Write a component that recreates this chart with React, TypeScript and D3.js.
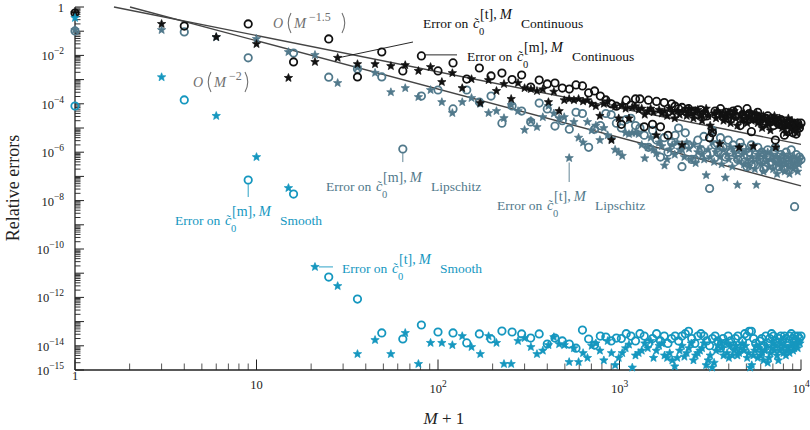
import React from "react";
import * as d3 from "d3";

// Sample grid: circle markers at M+1 = k^2, star markers at M+1 = k(k+1)/2
const circleK = d3.range(1, 101);
const starK = d3.range(1, 141);
const circleM1 = circleK.map((k) => k * k);
const starM1 = starK.map((k) => (k * (k + 1)) / 2);

// log10 of the relative error of c~0^[m],M (circles) and c~0^[t],M (stars)
const continuousMid = [
  -0.25, -0.79, -0.7, -2.27, -1.32, -2.89, -1.86, -2.64, -2.02, -2.64,
  -2.31, -2.98, -2.52, -2.85, -2.73, -3.0, -2.81, -3.31, -3.02, -3.18,
  -3.14, -3.35, -3.39, -3.22, -3.26, -3.55, -3.47, -3.68, -3.84, -4.0,
  -4.1, -4.85, -3.85, -4.05, -3.8, -3.8, -4.95, -3.85, -4.85, -3.9,
  -4.95, -3.95, -5.3, -4.0, -4.1, -4.2, -4.15, -4.3, -4.2, -4.35,
  -4.3, -4.45, -4.25, -4.4, -4.5, -5.4, -5.2, -4.3, -4.4, -4.2,
  -4.5, -4.35, -4.6, -4.4, -4.3, -4.5, -4.25, -4.9, -4.45, -4.6,
  -4.2, -4.4, -5.15, -4.6, -4.5, -4.35, -4.7, -4.55, -4.8, -4.6,
  -4.5, -4.75, -4.6, -4.9, -5.5, -4.7, -4.85, -4.65, -4.9, -5.3,
  -4.8, -5.15, -4.75, -4.9, -5.2, -4.85, -5.25, -4.8, -5.0, -4.8,
];
const continuousTrap = [
  -0.25, -0.7, -1.24, -1.53, -2.93, -2.27, -2.1, -2.36, -2.36, -2.44,
  -2.4, -2.64, -2.48, -3.1, -2.73, -3.35, -2.98, -3.97, -3.02, -3.47,
  -3.18, -3.8, -3.14, -3.35, -3.39, -3.47, -3.4, -3.93, -3.5, -4.3,
  -3.85, -3.8, -3.85, -3.8, -3.9, -3.85, -4.0, -4.1, -4.5, -4.0,
  -3.9, -5.5, -4.1, -4.6, -4.05, -4.2, -4.6, -4.15, -4.1, -4.25,
  -4.2, -4.45, -4.3, -4.2, -4.35, -5.3, -4.25, -4.4, -4.3, -4.5,
  -4.2, -4.35, -4.6, -4.3, -4.45, -5.7, -4.3, -4.5, -4.2, -4.4,
  -4.6, -4.3, -4.25, -4.5, -4.7, -4.35, -4.2, -4.5, -4.9, -5.1,
  -4.4, -4.6, -4.3, -5.65, -4.5, -4.7, -4.4, -4.6, -4.35, -4.8,
  -4.5, -4.3, -4.6, -4.9, -5.8, -4.5, -4.7, -4.4, -4.6, -4.8,
  -4.5, -4.35, -4.7, -5.75, -4.6, -4.4, -4.8, -4.55, -4.7, -5.0,
  -4.5, -4.65, -4.9, -4.6, -4.75, -5.1, -4.6, -4.8, -4.5, -5.8,
  -4.7, -4.9, -4.6, -4.8, -5.0, -4.7, -4.9, -5.2, -4.8, -4.6,
  -4.9, -5.0, -4.7, -5.1, -4.8, -4.9, -5.2, -4.8, -5.0, -4.9,
];
const lipschitzMid = [
  -0.99, -1.03, -2.1, -1.9, -2.9, -2.56, -2.89, -5.87, -3.68, -3.43,
  -4.21, -3.43, -3.93, -3.68, -4.8, -4.09, -4.3, -4.75, -3.97, -4.21,
  -4.92, -4.7, -5.05, -4.35, -4.4, -5.8, -5.05, -4.9, -4.4, -4.45,
  -4.8, -5.0, -4.65, -4.6, -4.9, -5.0, -5.3, -5.8, -5.1, -5.5,
  -6.2, -5.4, -6.0, -5.6, -5.3, -5.0, -6.6, -5.2, -5.7, -6.3,
  -6.3, -5.5, -5.9, -5.35, -6.1, -7.5, -5.1, -5.7, -6.0, -5.4,
  -5.8, -6.2, -5.5, -6.0, -5.7, -5.9, -6.3, -5.6, -5.8, -6.4,
  -6.6, -6.0, -5.7, -6.5, -6.1, -5.8, -6.3, -6.0, -6.7, -6.6,
  -5.9, -6.2, -6.4, -6.0, -5.8, -6.3, -6.6, -6.1, -6.4, -6.7,
  -6.0, -6.2, -6.5, -5.9, -6.3, -8.25, -6.1, -6.4, -6.2, -6.3,
];
const lipschitzTrap = [
  -0.95, -0.95, -1.25, -1.32, -1.86, -1.98, -3.14, -2.5, -2.72, -3.52,
  -3.35, -3.72, -3.43, -3.93, -4.38, -3.93, -3.76, -4.0, -4.38, -4.3,
  -4.59, -4.05, -4.3, -5.08, -4.7, -4.96, -4.55, -4.09, -4.4, -4.6,
  -4.55, -6.24, -4.75, -5.4, -5.6, -4.75, -5.1, -4.9, -5.5, -5.0,
  -5.3, -5.45, -5.9, -6.0, -6.15, -5.2, -5.25, -5.2, -5.2, -5.25,
  -5.7, -6.25, -5.8, -5.4, -5.9, -6.05, -5.6, -5.75, -6.55, -6.3,
  -5.9, -5.7, -6.1, -5.6, -5.9, -5.9, -6.2, -5.6, -5.85, -6.3,
  -5.7, -6.45, -6.0, -5.8, -6.1, -6.3, -6.95, -5.9, -6.2, -5.6,
  -6.4, -6.0, -5.8, -6.2, -6.5, -5.9, -7.05, -6.1, -6.3, -5.8,
  -6.6, -6.0, -6.2, -7.35, -6.4, -5.9, -6.1, -6.5, -6.0, -6.3,
  -6.6, -5.9, -6.2, -6.4, -6.7, -7.35, -6.1, -6.3, -6.5, -6.0,
  -6.8, -6.2, -6.4, -6.0, -6.6, -6.3, -6.1, -6.7, -6.4, -6.2,
  -6.9, -6.5, -6.3, -6.6, -6.1, -6.4, -6.8, -6.5, -6.2, -6.6,
  -6.9, -6.3, -6.5, -6.7, -6.2, -6.6, -6.4, -6.8, -6.5, -6.3,
];
const smoothMid = [
  -4.09, -3.84, -7.15, -7.73, -11.16, -12.07, -13.47, -13.72, -13.14, -13.43,
  -13.47, -13.88, -13.51, -13.72, -13.39, -13.43, -13.51, -13.68, -13.51, -13.93,
  -13.68, -13.8, -13.93, -14.1, -13.35, -13.72, -13.97, -13.6, -13.64, -13.8,
  -13.68, -13.7, -13.5, -13.6, -13.8, -13.5, -13.6, -13.9, -13.7, -13.5,
  -13.8, -13.6, -13.9, -13.7, -13.6, -13.8, -13.6, -13.5, -13.4, -13.7,
  -13.9, -13.6, -13.5, -13.6, -13.8, -14.0, -13.7, -13.6, -13.8, -14.1,
  -13.7, -13.9, -13.6, -13.8, -14.0, -13.7, -13.6, -14.1, -13.8, -13.5,
  -13.6, -13.4, -13.4, -13.7, -13.9, -14.1, -13.8, -13.7, -14.0, -13.6,
  -13.9, -13.7, -13.5, -13.6, -13.8, -13.9, -13.7, -13.6, -13.8, -13.6,
  -13.7, -13.9, -13.6, -13.5, -13.7, -13.6, -13.8, -13.6, -13.7, -13.6,
];
const smoothTrap = [
  -0.45, -2.9, -4.5, -6.2, -7.48, -10.74, -11.53, -14.34, -13.76, -14.34,
  -13.47, -14.75, -13.88, -13.88, -13.97, -13.6, -14.05, -14.34, -13.6, -13.88,
  -14.75, -14.75, -13.8, -13.68, -14.05, -14.34, -14.2, -13.97, -13.64, -13.93,
  -13.97, -14.67, -14.1, -14.67, -14.3, -14.5, -14.0, -13.9, -14.2, -14.6,
  -13.8, -14.3, -14.8, -14.5, -14.3, -14.1, -13.95, -14.9, -14.4, -14.3,
  -14.2, -13.9, -14.1, -13.8, -14.5, -14.2, -14.0, -13.9, -14.4, -14.5,
  -14.3, -14.6, -14.85, -14.5, -14.2, -14.0, -14.45, -14.3, -14.1, -13.9,
  -14.6, -14.4, -14.3, -14.2, -14.1, -13.9, -14.8, -14.6, -14.4, -14.9,
  -14.7, -14.2, -14.0, -13.8, -14.1, -14.4, -13.9, -14.3, -14.5, -14.0,
  -14.4, -14.2, -14.0, -14.4, -14.3, -14.1, -13.9, -14.2, -14.0, -14.5,
  -14.3, -14.9, -14.8, -14.4, -14.2, -14.0, -14.5, -14.1, -14.4, -14.3,
  -14.6, -14.2, -14.0, -14.7, -14.5, -14.3, -14.1, -13.9, -14.2, -14.0,
  -14.4, -14.6, -14.2, -13.9, -14.1, -14.3, -14.0, -14.4, -14.2, -14.1,
  -14.3, -14.0, -13.9, -14.2, -14.1, -14.0, -13.9, -14.1, -13.8, -13.9,
];

// Reference convergence rates: C * (M+1)^p, log10 C given
const rateSlow = { logC: 0.322, p: -1.5 };
const rateFast = { logC: 0.606, p: -2 };

const xTickExps = [0, 1, 2, 3, 4];
const yTickExps = d3.range(-15, 1);
const yLabelExps = [0, -2, -4, -6, -8, -10, -12, -14, -15];

const BLACK = "#111111";
const SLATE = "#51798b";
const CYAN = "#1597bf";
const GUIDE = "#454545";
const NOTE = "#707070";
const FONT = "'Liberation Serif', 'Times New Roman', serif";

const x = d3.scaleLog().domain([1, 1e4]).range([75, 801]);
const y = d3.scaleLog().domain([1e-15, 1]).range([370, 7]);

// filled five-pointed star marker
const starPath = (ro: number, ri: number) =>
  d3
    .range(10)
    .map((i) => {
      const a = -Math.PI / 2 + (i * Math.PI) / 5;
      const r = i % 2 === 0 ? ro : ri;
      return `${i === 0 ? "M" : "L"}${(r * Math.cos(a)).toFixed(2)},${(r * Math.sin(a)).toFixed(2)}`;
    })
    .join("") + "Z";
const STAR = starPath(4.4, 1.9);

type Pt = { cx: number; cy: number };
const toPoints = (xs: number[], exps: number[]): Pt[] =>
  exps.map((e, i) => ({ cx: x(xs[i]), cy: y(Math.pow(10, e)) }));

function Circles({ pts, color }: { pts: Pt[]; color: string }) {
  return (
    <g fill="none" stroke={color} strokeWidth={1.8}>
      {pts.map((p, i) => (
        <circle key={i} cx={p.cx} cy={p.cy} r={3.7} />
      ))}
    </g>
  );
}

function Stars({ pts, color }: { pts: Pt[]; color: string }) {
  return (
    <g fill={color} stroke={color} strokeWidth={0.7} strokeLinejoin="round">
      {pts.map((p, i) => (
        <path key={i} d={STAR} transform={`translate(${p.cx},${p.cy})`} />
      ))}
    </g>
  );
}

function ErrorLabel({
  x0,
  y0,
  tag,
  regime,
  color,
}: {
  x0: number;
  y0: number;
  tag: string;
  regime: string;
  color: string;
}) {
  const wide = tag === "m";
  return (
    <g fill={color} fontFamily={FONT}>
      <text x={x0} y={y0} fontSize={13.5}>
        Error on
      </text>
      <text x={x0 + 50} y={y0} fontSize={14.5} fontStyle="italic">
        c
      </text>
      <text x={x0 + 51.5} y={y0 - 1.5} fontSize={12}>
        ˜
      </text>
      <text x={x0 + 56} y={y0 + 7} fontSize={10.5}>
        0
      </text>
      <text x={x0 + 57} y={y0 - 9} fontSize={14}>
        [{tag}],
        <tspan dx={3} fontStyle="italic" fontSize={14.5}>
          M
        </tspan>
      </text>
      <text x={x0 + (wide ? 105 : 98)} y={y0} fontSize={13.5}>
        {regime}
      </text>
    </g>
  );
}

function RateLabel({ x0, y0, exp, supW }: { x0: number; y0: number; exp: string; supW: number }) {
  const lp = x0 + 14;
  const rp = x0 + 36 + supW + 4;
  return (
    <g fill={NOTE} fontFamily={FONT}>
      <text x={x0} y={y0} fontSize={14} fontStyle="italic">
        O
      </text>
      <path
        d={`M${lp + 4},${y0 - 15}Q${lp - 1.5},${y0 - 5} ${lp + 4},${y0 + 5}`}
        fill="none"
        stroke={NOTE}
        strokeWidth={1.1}
      />
      <text x={x0 + 21} y={y0} fontSize={14.5} fontStyle="italic">
        M
      </text>
      <text x={x0 + 36} y={y0 - 7} fontSize={12}>
        {exp}
      </text>
      <path
        d={`M${rp},${y0 - 15}Q${rp + 5.5},${y0 - 5} ${rp},${y0 + 5}`}
        fill="none"
        stroke={NOTE}
        strokeWidth={1.1}
      />
    </g>
  );
}

function rateLine(r: { logC: number; p: number }) {
  // start where the rate reaches 1 (top of the axis), end at the last sample
  const xStart = Math.pow(10, -r.logC / r.p);
  const f = (m: number) => Math.pow(10, r.logC) * Math.pow(m, r.p);
  const line = d3
    .line<number>()
    .x((m) => x(m))
    .y((m) => y(f(m)));
  return line([xStart, 1e4]) || "";
}

export default function App() {
  const contMidPts = toPoints(circleM1, continuousMid);
  const contTrapPts = toPoints(starM1, continuousTrap);
  const lipMidPts = toPoints(circleM1, lipschitzMid);
  const lipTrapPts = toPoints(starM1, lipschitzTrap);
  const smMidPts = toPoints(circleM1, smoothMid);
  const smTrapPts = toPoints(starM1, smoothTrap);

  const minorX: number[] = [];
  xTickExps.slice(0, -1).forEach((e) => {
    for (let m = 2; m <= 9; m++) minorX.push(m * Math.pow(10, e));
  });
  const minorY: number[] = [];
  yTickExps.slice(0, -1).forEach((e) => {
    for (let m = 2; m <= 9; m++) minorY.push(m * Math.pow(10, e));
  });

  // anchors for the leader lines
  const pCm = contMidPts[8];
  const pCt = contTrapPts[6];
  const pLm = lipMidPts[7];
  const pLt = lipTrapPts[31];
  const pSm = smMidPts[2];
  const pSt = smTrapPts[5];

  return (
    <svg
      width={810}
      height={430}
      viewBox="0 0 810 430"
      style={{ position: "fixed", left: 0, top: 0, background: "#fff" }}
      fontFamily={FONT}
    >
      <rect x={0} y={0} width={810} height={430} fill="#fff" />

      {/* axes */}
      <g stroke="#222" strokeWidth={1}>
        {minorX.map((v, i) => (
          <line key={"mx" + i} x1={x(v)} x2={x(v)} y1={370} y2={363.5} stroke="#555" />
        ))}
        {xTickExps.map((e) => (
          <line key={"Mx" + e} x1={x(Math.pow(10, e))} x2={x(Math.pow(10, e))} y1={370} y2={359.5} />
        ))}
        {minorY.map((v, i) => (
          <line key={"my" + i} x1={75} x2={80.5} y1={y(v)} y2={y(v)} stroke="#333" />
        ))}
        {yTickExps.map((e) => (
          <line key={"My" + e} x1={75} x2={84} y1={y(Math.pow(10, e))} y2={y(Math.pow(10, e))} />
        ))}
        <line x1={75} x2={75} y1={7} y2={370} strokeWidth={1.3} />
        <line x1={75} x2={801} y1={370} y2={370} strokeWidth={1.3} />
      </g>

      {/* tick labels */}
      <g fill="#222" fontSize={12.5}>
        {xTickExps.map((e) => {
          const px = x(Math.pow(10, e));
          if (e === 0)
            return (
              <text key={e} x={px} y={380} textAnchor="middle">
                1
              </text>
            );
          if (e === 1)
            return (
              <text key={e} x={px} y={388.5} textAnchor="middle">
                10
              </text>
            );
          return (
            <text key={e} x={px} y={393} textAnchor="middle">
              10
              <tspan dy={-6.5} fontSize={9.5}>
                {e}
              </tspan>
            </text>
          );
        })}
        {yLabelExps.map((e) => {
          const py = y(Math.pow(10, e));
          if (e === 0)
            return (
              <text key={e} x={64} y={py + 5} textAnchor="end">
                1
              </text>
            );
          return (
            <text key={e} x={64} y={py + 5} textAnchor="end">
              10
              <tspan dy={-6} fontSize={9.5}>
                {"\u2212" + Math.abs(e)}
              </tspan>
            </text>
          );
        })}
      </g>

      {/* axis titles */}
      <text
        transform="rotate(-90)"
        x={-188}
        y={19}
        textAnchor="middle"
        fontSize={18}
        fill="#222"
      >
        Relative errors
      </text>
      <text x={444} y={424} textAnchor="middle" fontSize={17} fill="#222">
        <tspan fontStyle="italic">M</tspan> + 1
      </text>

      {/* reference rates */}
      <g stroke={GUIDE} strokeWidth={1.4} fill="none">
        <path d={rateLine(rateSlow)} />
        <path d={rateLine(rateFast)} />
      </g>
      <RateLabel x0={273} y0={28} exp={"\u22121.5"} supW={29} />
      <RateLabel x0={193} y0={87} exp={"\u22122"} supW={12} />

      {/* data */}
      <Circles pts={lipMidPts} color={SLATE} />
      <Stars pts={lipTrapPts} color={SLATE} />
      <Circles pts={contMidPts} color={BLACK} />
      <Stars pts={contTrapPts} color={BLACK} />
      <Circles pts={smMidPts} color={CYAN} />
      <Stars pts={smTrapPts} color={CYAN} />

      {/* annotations */}
      <g strokeWidth={0.9} fill="none">
        <line x1={pCt.cx + 3} y1={pCt.cy - 0.5} x2={413} y2={42} stroke={BLACK} />
        <line x1={pCm.cx + 4} y1={pCm.cy - 1} x2={457} y2={pCm.cy - 1} stroke={BLACK} />
        <line x1={pLm.cx} y1={pLm.cy + 4.5} x2={pLm.cx} y2={pLm.cy + 13} stroke={SLATE} />
        <line x1={pLt.cx} y1={pLt.cy + 4.5} x2={pLt.cx} y2={pLt.cy + 24} stroke={SLATE} />
        <line x1={pSm.cx} y1={pSm.cy + 4.5} x2={pSm.cx} y2={pSm.cy + 17} stroke={CYAN} />
        <line x1={pSt.cx + 4} y1={pSt.cy} x2={pSt.cx + 18} y2={pSt.cy} stroke={CYAN} />
      </g>
      <ErrorLabel x0={423} y0={28} tag="t" regime="Continuous" color={BLACK} />
      <ErrorLabel x0={467} y0={61} tag="m" regime="Continuous" color={BLACK} />
      <ErrorLabel x0={326} y0={191} tag="m" regime="Lipschitz" color={SLATE} />
      <ErrorLabel x0={497} y0={210} tag="t" regime="Lipschitz" color={SLATE} />
      <ErrorLabel x0={175} y0={225} tag="m" regime="Smooth" color={CYAN} />
      <ErrorLabel x0={342} y0={273} tag="t" regime="Smooth" color={CYAN} />
    </svg>
  );
}
